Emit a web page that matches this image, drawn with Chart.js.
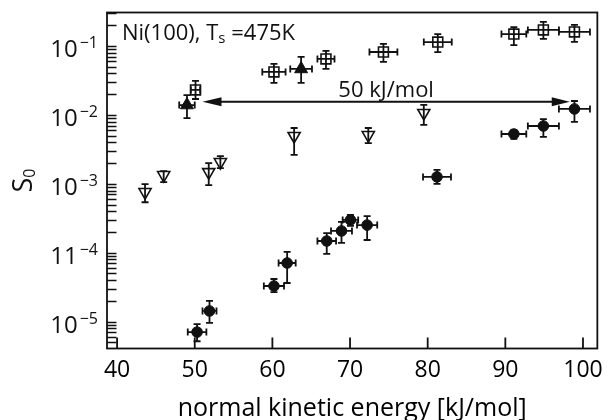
<!DOCTYPE html>
<html><head><meta charset="utf-8">
<script src="https://cdn.jsdelivr.net/npm/chart.js@4/dist/chart.umd.min.js"></script>
<style>html,body{margin:0;padding:0;background:#fff}#wrap{width:611px;height:420px}</style>
</head><body><div id="wrap"><canvas id="c" width="611" height="420"></canvas></div>
<script>
// ---- data ----
// open squares
const sqX = [50.1, 60.2, 66.9, 74.3, 81.3, 91.1, 94.9, 98.9];
const sqY = [0.0230, 0.0420, 0.0648, 0.0818, 0.114, 0.149, 0.171, 0.160];
const sqYLo = [0.0170, 0.0291, 0.0464, 0.0586, 0.0816, 0.103, 0.127, 0.115];
const sqYHi = [0.0311, 0.0549, 0.0847, 0.107, 0.149, 0.188, 0.224, 0.202];
const sqXErr = [0.6, 1.5, 1.1, 1.8, 1.8, 1.6, 2.0, 2.0];
// filled up-triangles
const upX = [49.0, 63.7];
const upY = [0.0139, 0.0464];
const upYLo = [0.0090, 0.0291];
const upYHi = [0.0194, 0.0693];
const upXErr = [1.0, 1.4];
// open down-triangles
const dnX = [43.6, 46.0, 51.8, 53.3, 62.8, 72.35, 79.5];
const dnY = [7.6e-4, 1.34e-3, 1.48e-3, 2.07e-3, 4.94e-3, 5.1e-3, 0.01067];
const dnYLo = [5.4e-4, 1.06e-3, 9.6e-4, 1.69e-3, 2.63e-3, 3.9e-3, 0.00715];
const dnYHi = [9.9e-4, 1.53e-3, 2.0e-3, 2.53e-3, 6.46e-3, 6.45e-3, 0.01395];
const dnXErr = [0, 0, 0, 0, 0, 0, 0];
// filled circles
const ciX = [50.3, 51.9, 60.2, 61.9, 67.0, 68.9, 70.05, 72.2, 81.2, 91.1, 94.9, 98.9];
const ciY = [7.06e-6, 1.43e-5, 3.29e-5, 7.1e-5, 1.48e-4, 2.07e-4, 2.99e-4, 2.52e-4, 1.26e-3, 5.28e-3, 6.9e-3, 0.0122];
const ciYLo = [5.2e-6, 9.6e-6, 2.69e-5, 3.64e-5, 9.6e-5, 1.39e-4, 2.45e-4, 1.53e-4, 1.0e-3, 4.5e-3, 4.8e-3, 0.0079];
const ciYHi = [9.2e-6, 2.0e-5, 4.16e-5, 1.03e-4, 1.93e-4, 2.8e-4, 3.53e-4, 3.4e-4, 1.59e-3, 6.0e-3, 8.7e-3, 0.0159];
const ciXErr = [1.2, 0.9, 1.3, 1.1, 1.2, 1.35, 1.0, 1.3, 1.8, 1.6, 2.0, 2.0];
// arrow (50 kJ/mol)
const arrowX = [51.0, 98.3];
const arrowY = [0.01555, 0.01555];
const arrowLabel = '50 kJ/mol';
// axes
const xTickValues = [40, 50, 60, 70, 80, 90, 100];
const xTickLabels = ['40', '50', '60', '70', '80', '90', '100'];
const yDecades = [1e-1, 1e-2, 1e-3, 1e-4, 1e-5];
const yTickBase = ['10', '10', '10', '11', '10'];
const yTickExp = ['\u22121', '\u22122', '\u22123', '\u22124', '\u22125'];
const xTitle = 'normal kinetic energy [kJ/mol]';
const yTitleMain = 'S', yTitleSub = '0';
const noteMain = 'Ni(100), T', noteSub = 's', noteTail = ' =475K';

const FONT = '"Open Sans", "Liberation Sans", sans-serif';
const W = '';
const INK = '#111';

function pts(xa, ya) { return xa.map((x, i) => ({x: x, y: ya[i]})); }

const decor = {
  id: 'decor',
  beforeDatasetsDraw(chart) {
    const ctx = chart.ctx, xs = chart.scales.x, ys = chart.scales.y;
    ctx.save();
    ctx.strokeStyle = INK; ctx.lineWidth = 1.8;
    chart.data.datasets.forEach(ds => {
      const e = ds.err; if (!e) return;
      ds.data.forEach((p, i) => {
        const px = xs.getPixelForValue(p.x), py = ys.getPixelForValue(p.y);
        const yl = ys.getPixelForValue(e.lo[i]), yh = ys.getPixelForValue(e.hi[i]);
        ctx.beginPath();
        ctx.moveTo(px, yl); ctx.lineTo(px, yh);
        ctx.moveTo(px - 3.5, yl); ctx.lineTo(px + 3.5, yl);
        ctx.moveTo(px - 3.5, yh); ctx.lineTo(px + 3.5, yh);
        const xe = e.xe[i];
        if (xe > 0) {
          const xl = xs.getPixelForValue(p.x - xe), xr = xs.getPixelForValue(p.x + xe);
          ctx.moveTo(xl, py); ctx.lineTo(xr, py);
          ctx.moveTo(xl, py - 3.5); ctx.lineTo(xl, py + 3.5);
          ctx.moveTo(xr, py - 3.5); ctx.lineTo(xr, py + 3.5);
        }
        ctx.stroke();
      });
    });
    ctx.restore();
  },
  afterDraw(chart) {
    const ctx = chart.ctx, xs = chart.scales.x, ys = chart.scales.y, a = chart.chartArea;
    ctx.save();
    ctx.strokeStyle = INK; ctx.fillStyle = INK;
    // frame
    ctx.lineWidth = 1.8;
    ctx.strokeRect(a.left, a.top, a.right - a.left, a.bottom - a.top);
    // x ticks (inward)
    ctx.beginPath();
    xTickValues.forEach(v => { const x = xs.getPixelForValue(v); ctx.moveTo(x, a.bottom); ctx.lineTo(x, a.bottom - 11); });
    ctx.stroke();
    // y ticks (log, inward)
    ctx.lineWidth = 1.4;
    ctx.beginPath();
    for (let n = -6; n <= -1; n++) {
      for (let k = 1; k <= 9; k++) {
        const v = k * Math.pow(10, n);
        if (v < ys.min || v > ys.max) continue;
        const y = Math.round(ys.getPixelForValue(v)) + 0.5;
        ctx.moveTo(a.left, y); ctx.lineTo(a.left + 9.5, y);
      }
    }
    ctx.stroke();
    // y tick labels with superscripts
    ctx.textBaseline = 'alphabetic'; ctx.textAlign = 'left';
    yDecades.forEach((v, i) => {
      const y = ys.getPixelForValue(v);
      ctx.font = W + '24px ' + FONT; const wb = ctx.measureText(yTickBase[i]).width;
      ctx.font = W + '16px ' + FONT; const we = ctx.measureText(yTickExp[i]).width;
      const x0 = 98 - wb - we - 2;
      ctx.font = W + '24px ' + FONT; ctx.fillText(yTickBase[i], x0, y + 11);
      ctx.font = W + '16px ' + FONT; ctx.fillText(yTickExp[i], x0 + wb + 2, y + 2);
    });
    // y title S0 (rotated)
    ctx.save();
    ctx.translate(32, (a.top + a.bottom) / 2);
    ctx.rotate(-Math.PI / 2);
    ctx.font = W + '27px ' + FONT; const ws = ctx.measureText(yTitleMain).width;
    ctx.font = W + '16px ' + FONT; const w0 = ctx.measureText(yTitleSub).width;
    const sx = -(ws + w0) / 2;
    ctx.font = W + '27px ' + FONT; ctx.fillText(yTitleMain, sx, 0);
    ctx.font = W + '16px ' + FONT; ctx.fillText(yTitleSub, sx + ws, 3);
    ctx.restore();
    // note
    ctx.font = W + '22px ' + FONT;
    let nx = a.left + 15; const ny = a.top + 27;
    ctx.fillText(noteMain, nx, ny); nx += ctx.measureText(noteMain).width;
    ctx.font = W + '15px ' + FONT; ctx.fillText(noteSub, nx, ny + 3); nx += ctx.measureText(noteSub).width;
    ctx.font = W + '22px ' + FONT; ctx.fillText(noteTail, nx, ny);
    // arrow
    const ax0 = xs.getPixelForValue(arrowX[0]), ax1 = xs.getPixelForValue(arrowX[1]);
    const ay = ys.getPixelForValue(arrowY[0]);
    ctx.lineWidth = 2;
    ctx.beginPath(); ctx.moveTo(ax0 + 10, ay); ctx.lineTo(ax1 - 10, ay); ctx.stroke();
    ctx.beginPath(); ctx.moveTo(ax0, ay); ctx.lineTo(ax0 + 19, ay - 4.5); ctx.lineTo(ax0 + 19, ay + 4.5); ctx.closePath(); ctx.fill();
    ctx.beginPath(); ctx.moveTo(ax1, ay); ctx.lineTo(ax1 - 18, ay - 4.5); ctx.lineTo(ax1 - 18, ay + 4.5); ctx.closePath(); ctx.fill();
    ctx.font = W + '22px ' + FONT; ctx.textAlign = 'center';
    ctx.fillText(arrowLabel, (ax0 + ax1) / 2, ay - 5);
    ctx.restore();
  }
};

new Chart(document.getElementById('c'), {
  type: 'scatter',
  data: {
    datasets: [
      { label: 'squares', data: pts(sqX, sqY), err: {lo: sqYLo, hi: sqYHi, xe: sqXErr},
        pointStyle: 'rect', pointRadius: 7, pointBackgroundColor: 'rgba(0,0,0,0)', pointBorderColor: INK, pointBorderWidth: 1.6 },
      { label: 'up', data: pts(upX, upY), err: {lo: upYLo, hi: upYHi, xe: upXErr},
        pointStyle: 'triangle', pointRadius: 7.5, pointBackgroundColor: INK, pointBorderColor: INK, pointBorderWidth: 1 },
      { label: 'down', data: pts(dnX, dnY), err: {lo: dnYLo, hi: dnYHi, xe: dnXErr},
        pointStyle: 'triangle', pointRotation: 180, pointRadius: 7, pointBackgroundColor: 'rgba(0,0,0,0)', pointBorderColor: INK, pointBorderWidth: 1.6 },
      { label: 'circles', data: pts(ciX, ciY), err: {lo: ciYLo, hi: ciYHi, xe: ciXErr},
        pointStyle: 'circle', pointRadius: 5.3, pointBackgroundColor: INK, pointBorderColor: INK, pointBorderWidth: 1 }
    ]
  },
  options: {
    responsive: false, animation: false, devicePixelRatio: 1,
    layout: { padding: { left: 0, right: 10, top: 12.5, bottom: 0 } },
    plugins: { legend: { display: false }, tooltip: { enabled: false } },
    datasets: { scatter: { clip: false } },
    scales: {
      x: {
        type: 'linear', min: 38.7, max: 101.85,
        grid: { display: false, drawTicks: false }, border: { display: false },
        afterBuildTicks: s => { s.ticks = xTickValues.map(v => ({value: v})); },
        afterFit: s => { s.height = 71.5; },
        ticks: { color: '#000', font: { family: FONT, size: 23 }, padding: 8,
                 callback: v => xTickLabels[xTickValues.indexOf(v)] },
        title: { display: true, text: xTitle, color: '#000', font: { family: FONT, size: 25, lineHeight: 1 }, padding: { top: 0, bottom: -1 } }
      },
      y: {
        type: 'logarithmic', min: 4.08e-6, max: 0.306,
        grid: { display: false, drawTicks: false }, border: { display: false },
        ticks: { display: false },
        afterFit: s => { s.width = 107; }
      }
    }
  },
  plugins: [decor]
});
</script></body></html>
